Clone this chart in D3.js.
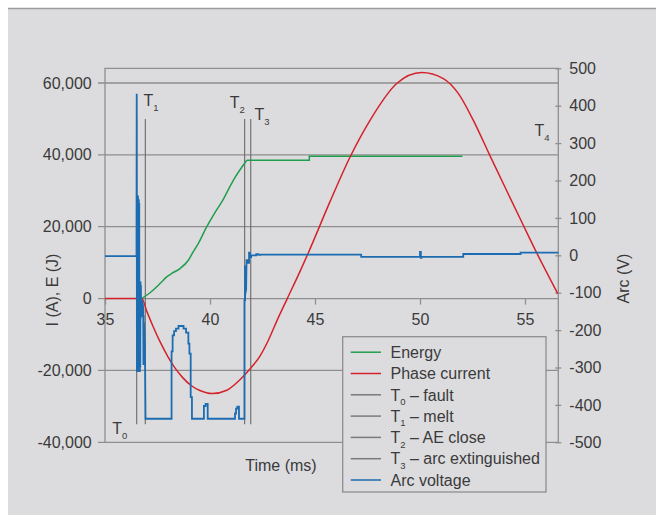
<!DOCTYPE html>
<html><head><meta charset="utf-8">
<script src="https://cdn.jsdelivr.net/npm/d3@7"></script>
<style>
body{margin:0;background:#fff;}
svg{display:block;font-family:"Liberation Sans",Arial,Helvetica,sans-serif;}
</style>
</head><body>
<svg id="c" width="656" height="515"></svg>
<script>
// ---------------- data ----------------
const xTicks = [35, 40, 45, 50, 55];
const leftTicks = [-40000, -20000, 0, 20000, 40000, 60000];
const rightTicks = [-500, -400, -300, -200, -100, 0, 100, 200, 300, 400, 500];

// Energy (J) vs time (ms)
const energyRise = [[36.75,0],[37.2,1900],[37.62,4175],[37.94,6030],[38.18,7000],[38.57,8350],[38.97,10660],[39.2,13000],[39.44,15300],[39.84,19930],[40.2,23600],[40.56,26900],[41.11,32925],[41.75,38490]];
const energyHold = [[41.75,38490],[44.73,38490],[44.73,39600],[52.02,39600]];

// Phase current (A) vs time (ms)
const phaseCurrent = [[35,0],[36.75,0],[37.0,-3700],[37.3,-7900],[37.62,-12000],[38.0,-16200],[38.33,-19300],[38.7,-22000],[39.1,-24200],[39.52,-25600],[40.1,-26440],[40.8,-25500],[41.3,-23300],[41.59,-21600],[41.9,-19600],[42.38,-16000],[42.78,-11600],[43.2,-6000],[43.68,0],[44.32,8000],[44.68,12700],[45.71,26900],[46.67,39400],[47.62,49600],[48.89,59840],[50.08,62900],[51.11,61230],[51.83,57050],[52.54,49600],[53.33,39800],[54.13,30000],[54.92,20400],[55.56,12700],[56.56,1390]];

// Arc voltage (V) vs time (ms)
const arcVoltage = [[35,-2],[36.50,-2],
 [36.51,432],[36.52,-312],[36.53,160],[36.54,-312],[36.55,160],[36.56,-312],[36.57,160],[36.58,-312],[36.59,150],[36.60,-312],[36.61,150],[36.62,-312],[36.63,140],[36.64,-312],[36.65,-70],[36.66,-312],[36.67,-70],[36.68,-300],[36.69,-70],[36.70,-170],[36.71,-80],[36.72,-140],[36.73,-120],[36.74,-165],[36.75,-130],[36.76,-150],[36.77,-145],[36.78,-120],[36.79,-140],[36.80,-130],[36.81,-135],[36.82,-140],[36.83,-293],[36.84,-160],[36.85,-293],[36.86,-180],[36.87,-290],[36.88,-200],[36.89,-290],[36.90,-230],[36.93,-437],
 [38.17,-437],[38.17,-257],[38.22,-257],[38.22,-214],[38.29,-214],[38.29,-203],[38.38,-203],[38.38,-196],[38.50,-196],[38.50,-189],[38.74,-189],[38.74,-196],[38.86,-196],[38.86,-207],[38.97,-207],[38.97,-236],[39.02,-236],[39.02,-263],[39.08,-263],[39.08,-379],[39.14,-379],[39.14,-437],
 [39.71,-437],[39.71,-403],[39.79,-403],[39.79,-397],[39.89,-397],[39.89,-437],
 [41.19,-437],[41.19,-423],[41.24,-423],[41.24,-410],[41.30,-410],[41.30,-405],[41.38,-405],[41.38,-437],
 [41.64,-437],[41.64,-120],[41.67,-120],[41.67,-27],[41.68,-107],[41.69,-27],[41.70,-100],[41.71,-30],[41.72,-95],[41.74,-13],[41.79,-13],[41.79,-20],[41.86,-20],[41.86,7],[41.90,7],[41.90,-5],[41.96,-5],[41.96,0],[42.20,0],[42.20,3],[42.30,3],[42.30,1],[42.40,1],[42.40,2],
 [47.20,2],[47.20,-4],[50.00,-4],[50.00,9],[50.04,9],[50.04,-7],[50.07,-7],[50.07,-4],[52.06,-4],[52.06,3.5],[54.79,3.5],[54.79,7],[56.59,7]];

// Event markers (ms)
const markerNames = ["T0","T1","T2","T3"];
const markerTimes = [36.51, 36.92, 41.65, 41.94];
const markerSpan = [-35000, 50000];
const t4Time = 55.5;

const legendNames = ["Energy","Phase current","T0 – fault","T1 – melt","T2 – AE close","T3 – arc extinguished","Arc voltage"];

// ---------------- styles ----------------
const C = {bg:"#dcdcdf", grid:"#8e8e8e", text:"#3a3a3a", marker:"#6a6a6a",
  green:"#1f9e4c", red:"#d3222a", blue:"#1c6cb2"};
const legendColors = [C.green, C.red, "#7a7a7a", "#7a7a7a", "#7a7a7a", "#7a7a7a", C.blue];

const svg = d3.select("#c");
const loc = d3.formatLocale({decimal:".", thousands:",", grouping:[3], currency:["",""], minus:"-"});
const fmt = loc.format(",");

const L = 105, R = 558.3, T = 68.3, B = 442.3;
const x = d3.scaleLinear().domain([35, 35 + (R - L) / 21]).range([L, R]);
const yL = d3.scaleLinear().domain([-40000, -40000 + (B - T) / 0.0035932]).range([B, T]);
const yR = d3.scaleLinear().domain([-500, 500]).range([B, T]);

// panel
svg.append("rect").attr("x", 8).attr("y", 8).attr("width", 648).attr("height", 507).attr("fill", C.bg);
svg.append("line").attr("x1", 8).attr("x2", 656).attr("y1", 8.5).attr("y2", 8.5).attr("stroke", "#9c9c9c").attr("stroke-width", 1.5);

// gridlines
svg.append("g").selectAll("line").data(leftTicks).join("line")
  .attr("x1", L - 7).attr("x2", R).attr("y1", d => yL(d)).attr("y2", d => yL(d))
  .attr("stroke", C.grid).attr("stroke-width", 1.3);

// frame
const frame = svg.append("g").attr("stroke", C.grid).attr("stroke-width", 1.3).attr("fill", "none");
frame.append("path").attr("d", `M${L},${B}V${T}H${R}V${B}`);

// left axis
const gL = svg.append("g").attr("transform", `translate(${L},0)`)
  .call(d3.axisLeft(yL).tickValues(leftTicks).tickFormat(fmt).tickSize(0).tickPadding(13.3));
gL.select(".domain").remove();

// right axis
const gR = svg.append("g").attr("transform", `translate(${R},0)`)
  .call(d3.axisRight(yR).tickValues(rightTicks).tickFormat(fmt).tickSize(3).tickPadding(8));
gR.select(".domain").remove();
gR.selectAll(".tick line").attr("x1", -3).attr("x2", 3).attr("stroke", C.grid).attr("stroke-width", 1.3);

// x axis
const gX = svg.append("g").attr("transform", `translate(0,${yL(0)})`)
  .call(d3.axisBottom(x).tickValues(xTicks).tickSize(6).tickPadding(8.7));
gX.select(".domain").remove();
gX.selectAll(".tick line").attr("stroke", C.grid).attr("stroke-width", 1.3);

[gL, gR, gX].forEach(g => g.selectAll("text").attr("fill", C.text).style("font-size", "16px").style("font-family", "'Liberation Sans',Arial,sans-serif"));

// marker lines
svg.append("g").selectAll("line").data(markerTimes).join("line")
  .attr("x1", d => x(d)).attr("x2", d => x(d))
  .attr("y1", yL(markerSpan[0])).attr("y2", yL(markerSpan[1]))
  .attr("stroke", C.marker).attr("stroke-width", 1.1);

// marker labels
function tLabel(px, py, sub) {
  const t = svg.append("text").attr("x", px).attr("y", py).attr("fill", C.text).style("font-size", "16px");
  t.append("tspan").text("T");
  t.append("tspan").attr("dy", 4.5).style("font-size", "9.5px").text(sub);
}
tLabel(x(markerTimes[1]) - 1.8, 106, "1");
tLabel(x(markerTimes[2]) - 15, 108, "2");
tLabel(x(markerTimes[3]) + 3.8, 120, "3");
tLabel(x(markerTimes[0]) - 24.5, 434, "0");
tLabel(x(t4Time) - 1, 136, "4");

// series
const lineL = d3.line().x(d => x(d[0])).y(d => yL(d[1]));
const lineR = d3.line().x(d => x(d[0])).y(d => yR(d[1]));

svg.append("path").attr("d", lineL.curve(d3.curveMonotoneX)(energyRise))
  .attr("fill", "none").attr("stroke", C.green).attr("stroke-width", 1.5);
svg.append("path").attr("d", d3.line().x(d => x(d[0])).y(d => yL(d[1]))(energyHold))
  .attr("fill", "none").attr("stroke", C.green).attr("stroke-width", 1.5);
svg.append("path").attr("d", d3.line().x(d => x(d[0])).y(d => yL(d[1])).curve(d3.curveMonotoneX)(phaseCurrent))
  .attr("fill", "none").attr("stroke", C.red).attr("stroke-width", 1.5);
svg.append("path").attr("d", lineR(arcVoltage))
  .attr("fill", "none").attr("stroke", C.blue).attr("stroke-width", 1.8).attr("stroke-linejoin", "miter");

// axis titles
svg.append("text").attr("transform", "translate(52,290) rotate(-90)").attr("dy", "0.35em")
  .attr("text-anchor", "middle").attr("fill", C.text).style("font-size", "16px").text("I (A), E (J)");
svg.append("text").attr("transform", "translate(623,278.5) rotate(-90)").attr("dy", "0.35em")
  .attr("text-anchor", "middle").attr("fill", C.text).style("font-size", "16px").text("Arc (V)");
svg.append("text").attr("x", 281).attr("y", 465).attr("dy", "0.35em")
  .attr("text-anchor", "middle").attr("fill", C.text).style("font-size", "16px").text("Time (ms)");

// legend
const lg = svg.append("g");
lg.append("rect").attr("x", 342.7).attr("y", 336.7).attr("width", 203.3).attr("height", 155.3)
  .attr("fill", C.bg).attr("stroke", C.grid).attr("stroke-width", 1.3);
legendNames.forEach((name, i) => {
  const cy = 352.2 + i * 21.3;
  lg.append("line").attr("x1", 350.7).attr("x2", 381).attr("y1", cy).attr("y2", cy)
    .attr("stroke", legendColors[i]).attr("stroke-width", 1.5);
  const t = lg.append("text").attr("x", 390.5).attr("y", cy).attr("dy", "0.36em")
    .attr("fill", C.text).style("font-size", "16px");
  const m = name.match(/^T(\d)(.*)$/);
  if (m) {
    t.append("tspan").text("T");
    t.append("tspan").attr("dy", 4.5).style("font-size", "9.5px").text(m[1]);
    t.append("tspan").attr("dy", -4.5).text(m[2]);
  } else {
    t.text(name);
  }
});
</script>
</body></html>
